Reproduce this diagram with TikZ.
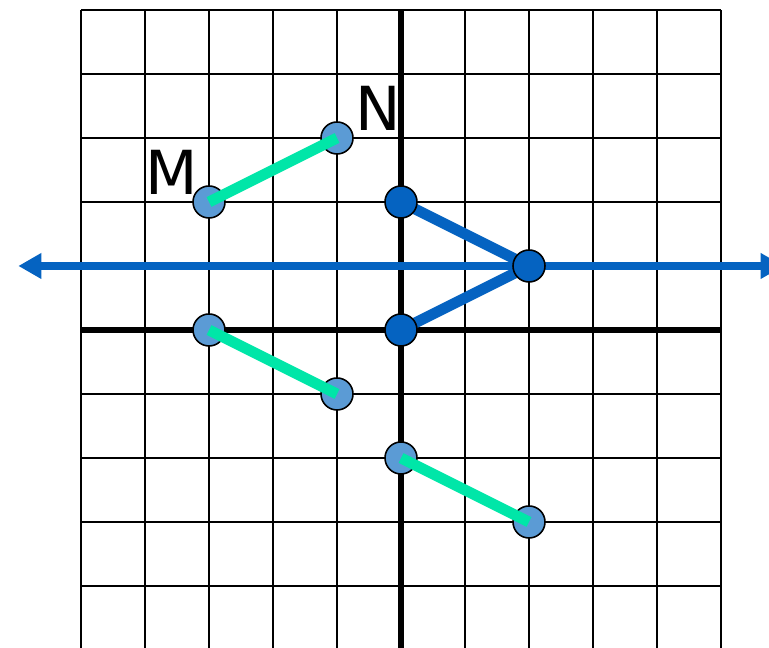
\documentclass[tikz,border=0pt]{standalone}
\usepackage{fontspec}
\setmainfont{DejaVu Sans}
\usepackage{tikz}
\usetikzlibrary{positioning,arrows.meta}
\definecolor{darkdot}{RGB}{5,99,193}
\definecolor{lightdot}{RGB}{91,155,213}
\definecolor{segment}{RGB}{0,230,168}
\pgfdeclarelayer{bg}
\pgfdeclarelayer{mid}
\pgfdeclarelayer{fg}
\pgfsetlayers{bg,mid,main,fg}

\begin{document}
\begin{tikzpicture}[dot/.style={circle, draw, line width=0.7pt, inner sep=0pt, minimum size=0.5cm},
    lbl/.style={font=\fontsize{27}{30}\selectfont, inner sep=0pt}]
        \useasboundingbox (-6.266,-4.969) rectangle (5.75,5.156);
        % grid and axes
        \begin{pgfonlayer}{bg}
        \draw[line width=0.9pt] (-5,-5) grid (5,5);
        \draw[line width=2.4pt] (-5,0) -- (5,0);
        \draw[line width=2.4pt] (0,-5.2) -- (0,5);
        \end{pgfonlayer}
        % points
        \node[dot, fill=darkdot] (p1) at (0,2) {};
        \node[dot, fill=darkdot] (p0) at (0,0) {};
        \node[dot, fill=darkdot] (apex) at (2,1) {};
        \node[dot, fill=lightdot] (m) at (-3,2) {};
        \node[dot, fill=lightdot] (n) at (-1,3) {};
        \node[dot, fill=lightdot] (m2) at (-3,0) {};
        \node[dot, fill=lightdot] (n2) at (-1,-1) {};
        \node[dot, fill=lightdot] (m3) at (0,-2) {};
        \node[dot, fill=lightdot] (n3) at (2,-3) {};
        \node[lbl] (lblM) at (-3.58,2.47) {M};
        \node[lbl] (lblN) at (-0.36,3.47) {N};
        \coordinate (west) at (-5.98,1);
        \coordinate (east) at (5.98,1);
        % mirror line and image
        \begin{pgfonlayer}{mid}
        \draw[darkdot, line width=3.7pt, {Triangle[length=0.36cm,width=0.38cm]}-{Triangle[length=0.36cm,width=0.38cm]}] (west) -- (east);
        \draw[darkdot, line width=4.8pt] (p1.center) -- (apex.center);
        \draw[darkdot, line width=4.8pt] (p0.center) -- (apex.center);
        \end{pgfonlayer}
        % segments
        \begin{pgfonlayer}{fg}
        \draw[segment, line width=4.8pt] (m.center) -- (n.center);
        \draw[segment, line width=4.8pt] (m2.center) -- (n2.center);
        \draw[segment, line width=4.8pt] (m3.center) -- (n3.center);
        \end{pgfonlayer}
      \end{tikzpicture}
\end{document}
